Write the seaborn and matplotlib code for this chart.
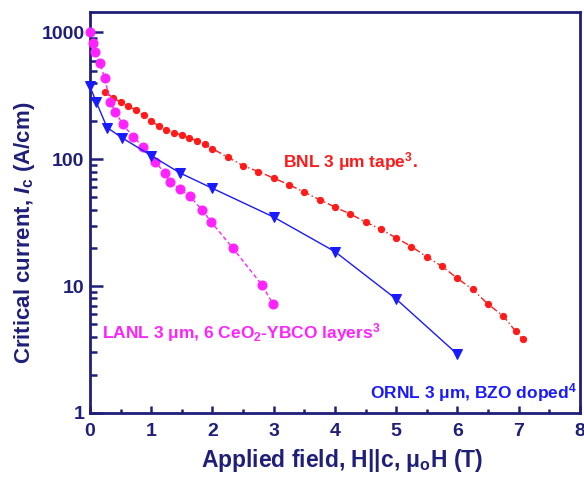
import numpy as np
import pandas as pd
import matplotlib
matplotlib.use("Agg")
import matplotlib.pyplot as plt
import seaborn as sns
from matplotlib.ticker import LogLocator, NullFormatter, FixedLocator

# ---- data ----
bnl_x = [0.25, 0.375, 0.5, 0.625, 0.75, 0.875, 1.0, 1.125, 1.25, 1.375, 1.5, 1.625,
         1.75, 1.875, 2.0, 2.25, 2.5, 2.75, 3.0, 3.25, 3.5, 3.75, 4.0, 4.25, 4.5,
         4.75, 5.0, 5.25, 5.5, 5.75, 6.0, 6.25, 6.5, 6.75, 6.95, 7.07]
bnl_y = [340, 305, 282, 262, 245, 222, 200, 183, 171, 162, 155, 147,
         140, 131, 121, 104, 89, 80, 71, 63, 55, 48, 42, 37, 32,
         28, 24, 20.5, 17, 14.3, 11.5, 9.4, 7.2, 5.8, 4.4, 3.8]

lanl_x = [0.0, 0.05, 0.08, 0.16, 0.24, 0.33, 0.41, 0.54, 0.70, 0.87, 1.06, 1.22,
          1.31, 1.47, 1.63, 1.83, 1.98, 2.33, 2.81, 2.99]
lanl_y = [1000, 830, 705, 575, 440, 285, 238, 188, 151, 126, 96, 78,
          66, 58, 51, 40, 32, 20, 10.2, 7.2]

ornl_x = [0.0, 0.1, 0.28, 0.52, 1.0, 1.47, 2.0, 3.0, 4.0, 5.0, 6.0]
ornl_y = [375, 285, 178, 148, 107, 78, 59, 35, 18.7, 7.9, 2.9]

x_ticks = [0, 1, 2, 3, 4, 5, 6, 7, 8]
y_ticks = [1, 10, 100, 1000]
y_tick_labels = ["1", "10", "100", "1000"]

NAVY = "#1f1f7a"
RED = "#ff1a1a"
MAGENTA = "#ff22ff"
BLUE = "#1a1aff"

sns.set_style("ticks")
plt.rcParams["font.family"] = ["Liberation Sans", "DejaVu Sans"]
plt.rcParams["font.weight"] = "bold"
plt.rcParams["mathtext.fontset"] = "custom"
plt.rcParams["mathtext.rm"] = "Liberation Sans:bold"
plt.rcParams["mathtext.it"] = "Liberation Sans:bold:italic"
plt.rcParams["mathtext.bf"] = "Liberation Sans:bold"

fig = plt.figure(figsize=(5.84, 4.79), dpi=100)
ax = fig.add_axes([0.154, 0.138, 0.839, 0.837])

bnl = pd.DataFrame({"x": bnl_x, "y": bnl_y})
lanl = pd.DataFrame({"x": lanl_x, "y": lanl_y})
ornl = pd.DataFrame({"x": ornl_x, "y": ornl_y})

sns.lineplot(data=bnl, x="x", y="y", ax=ax, color=RED, linestyle=(0, (5, 2, 1, 2)),
             linewidth=1.0, marker="o", markersize=4.5, markeredgecolor=RED,
             markerfacecolor=RED, sort=False, clip_on=False, zorder=3)
sns.lineplot(data=lanl, x="x", y="y", ax=ax, color=MAGENTA, linestyle=(0, (3, 2)),
             linewidth=1.0, marker="o", markersize=6.5, markeredgecolor=MAGENTA,
             markerfacecolor=MAGENTA, sort=False, clip_on=False, zorder=3)
sns.lineplot(data=ornl, x="x", y="y", ax=ax, color=BLUE, linestyle="-",
             linewidth=1.0, marker="v", markersize=7.5, markeredgecolor=BLUE,
             markerfacecolor=BLUE, sort=False, clip_on=False, zorder=4)

ax.set_yscale("log")
ax.set_xlim(0, 8)
ax.set_ylim(1, 1450)

ax.xaxis.set_major_locator(FixedLocator(x_ticks))
ax.xaxis.set_minor_locator(FixedLocator([v + 0.5 for v in x_ticks[:-1]]))
ax.yaxis.set_major_locator(FixedLocator(y_ticks))
ax.set_yticklabels(y_tick_labels)
ax.yaxis.set_minor_locator(LogLocator(base=10, subs=np.arange(2, 10), numticks=20))
ax.yaxis.set_minor_formatter(NullFormatter())

ax.tick_params(axis="both", which="both", direction="in", colors=NAVY,
               labelcolor=NAVY, top=False, right=False, width=1.8)
ax.tick_params(axis="y", which="major", length=9, labelsize=14, pad=4)
ax.tick_params(axis="y", which="minor", length=5)
ax.tick_params(axis="x", which="major", length=5, labelsize=14, pad=7)
ax.tick_params(axis="x", which="minor", length=3)
for lab in ax.get_xticklabels() + ax.get_yticklabels():
    lab.set_fontweight("bold")

for s in ax.spines.values():
    s.set_color(NAVY)
    s.set_linewidth(2.0)

ax.set_xlabel("Applied field, H||c, μ$_\\mathbf{o}$H (T)", fontsize=16.5,
              fontweight="bold", color=NAVY)
ax.set_ylabel("Critical current, $\\mathit{I}_\\mathrm{c}$ (A/cm)", fontsize=16,
              fontweight="bold", color=NAVY)
ax.yaxis.set_label_coords(-0.108, 0.45)
ax.xaxis.set_label_coords(0.515, -0.085)

ax.text(3.15, 96, "BNL 3 μm tape$^\\mathrm{3}$.", color=RED, fontsize=12.5,
        fontweight="bold", va="center", ha="left")
ax.text(0.2, 4.3, "LANL 3 μm, 6 CeO$_\\mathrm{2}$-YBCO layers$^\\mathrm{3}$", color=MAGENTA,
        fontsize=12.5, fontweight="bold", va="center", ha="left")
ax.text(7.95, 1.45, "ORNL 3 μm, BZO doped$^\\mathrm{4}$", color=BLUE, fontsize=12.5,
        fontweight="bold", va="center", ha="right")

fig.savefig("out.png", dpi=100)
